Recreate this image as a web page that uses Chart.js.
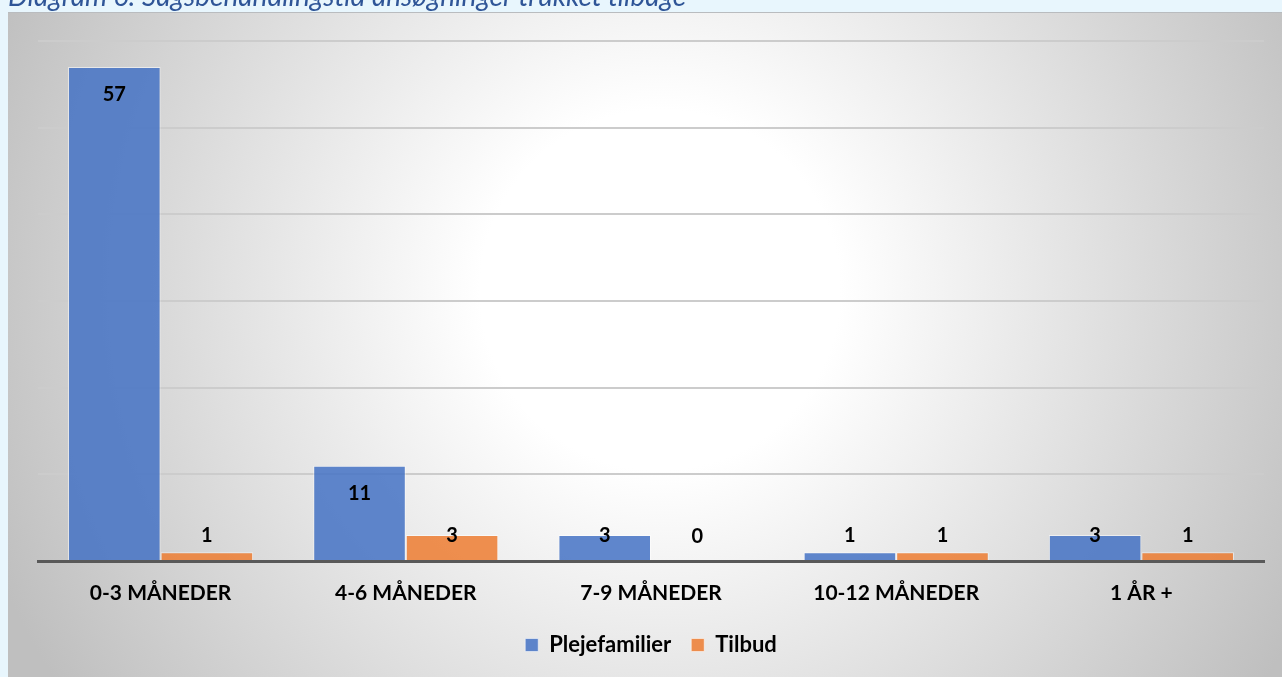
<!DOCTYPE html>
<html><head><meta charset="utf-8">
<script src="https://cdn.jsdelivr.net/npm/chart.js@4.4.1/dist/chart.umd.min.js"></script>
<style>
html,body{margin:0;padding:0;width:1282px;height:677px;overflow:hidden;background:#e8f6fd;}
#wrap{position:absolute;left:0;top:0;width:1282px;height:677px;}
#title{position:absolute;left:8px;top:-19px;font:italic 28px Lato, sans-serif;line-height:28px;color:#2f5597;white-space:nowrap;z-index:2;}
</style></head><body>
<div id="wrap"><canvas id="c" width="1282" height="677"></canvas></div>
<div id="title">Diagram 6: Sagsbehandlingstid ansøgninger trukket tilbage</div>
<script>
const categories = ['0-3 MÅNEDER', '4-6 MÅNEDER', '7-9 MÅNEDER', '10-12 MÅNEDER', '1 ÅR +'];
const plejefamilier = [57, 11, 3, 1, 3];
const tilbud = [1, 3, 0, 1, 1];
const seriesNames = ['Plejefamilier', 'Tilbud'];
const yMin = 0, yMax = 60, yStep = 10;

const bgPlugin = {
  id: 'bg',
  beforeDraw(chart) {
    const ctx = chart.ctx, W = chart.width, H = chart.height;
    ctx.save();
    ctx.fillStyle = '#e8f6fd';
    ctx.fillRect(0, 0, W, H);
    const g = ctx.createRadialGradient(660, 290, 0, 660, 290, 720);
    g.addColorStop(0, '#ffffff');
    g.addColorStop(0.25, '#ffffff');
    g.addColorStop(1, '#bfbfbf');
    ctx.fillStyle = g;
    ctx.fillRect(8, 12, W - 8, H - 12);
    ctx.fillStyle = '#b9bcbf';
    ctx.fillRect(8, 12, W - 8, 1);
    ctx.restore();
  }
};

const labelPlugin = {
  id: 'valueLabels',
  afterDatasetsDraw(chart) {
    const ctx = chart.ctx;
    ctx.save();
    ctx.font = 'bold 20px Lato, sans-serif';
    ctx.fillStyle = '#000000';
    ctx.textAlign = 'center';
    ctx.textBaseline = 'middle';
    chart.data.datasets.forEach((ds, i) => {
      const meta = chart.getDatasetMeta(i);
      meta.data.forEach((el, j) => {
        const p = el.getProps(['x', 'y', 'base'], true);
        const cy = Math.min(p.y + 28, p.base - 24);
        ctx.fillText(String(ds.data[j]), p.x, cy);
      });
    });
    ctx.restore();
  }
};

new Chart(document.getElementById('c'), {
  type: 'bar',
  data: {
    labels: categories,
    datasets: [
      { label: seriesNames[0], data: plejefamilier, backgroundColor: 'rgba(68,114,196,0.85)', borderColor: 'rgba(255,255,255,0.55)', borderWidth: 1, categoryPercentage: 0.755, barPercentage: 1 },
      { label: seriesNames[1], data: tilbud, backgroundColor: 'rgba(237,125,49,0.85)', borderColor: 'rgba(255,255,255,0.55)', borderWidth: 1, categoryPercentage: 0.755, barPercentage: 1 }
    ]
  },
  options: {
    responsive: false,
    animation: false,
    devicePixelRatio: 1,
    layout: { padding: { left: 38, right: 18, top: 41, bottom: 11 } },
    scales: {
      x: {
        grid: { display: false, drawTicks: false },
        border: { display: true, color: '#595959', width: 3 },
        ticks: { color: '#000000', font: { family: 'Lato', weight: 'bold', size: 21 }, padding: 20, maxRotation: 0 },
        afterFit(s) { s.height = 53; }
      },
      y: {
        min: yMin, max: yMax,
        ticks: { display: false, stepSize: yStep },
        grid: { color: '#cccccc', lineWidth: 2, drawTicks: false },
        border: { display: false }
      }
    },
    plugins: {
      legend: {
        position: 'bottom',
        labels: { boxWidth: 13, boxHeight: 13, padding: 20, color: '#000000', font: { family: 'Lato', weight: 'bold', size: 22 } }
      },
      tooltip: { enabled: false }
    }
  },
  plugins: [bgPlugin, labelPlugin]
});
</script>
</body></html>
